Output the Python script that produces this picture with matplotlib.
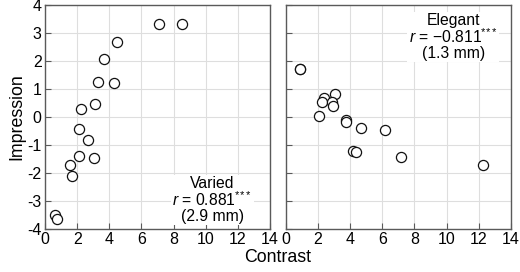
import matplotlib
matplotlib.use("Agg")
import matplotlib.pyplot as plt

plt.rcParams['font.family'] = ['Liberation Sans', 'DejaVu Sans']
plt.rcParams['mathtext.fontset'] = 'custom'
plt.rcParams['mathtext.rm'] = 'Liberation Sans'
plt.rcParams['mathtext.it'] = 'Liberation Sans:italic'

varied_x = [7.11, 8.5, 4.46, 3.69, 3.28, 4.31, 3.11, 2.24, 2.14, 2.65, 2.12, 3.03, 1.54, 1.70, 0.62, 0.77]
varied_y = [3.33, 3.31, 2.68, 2.08, 1.25, 1.20, 0.48, 0.29, -0.44, -0.82, -1.38, -1.45, -1.73, -2.12, -3.50, -3.65]

elegant_x = [0.89, 0.90, 2.41, 2.23, 3.07, 2.89, 2.97, 2.08, 3.76, 3.76, 4.71, 6.17, 4.19, 4.36, 7.14, 12.27]
elegant_y = [1.73, 1.70, 0.68, 0.54, 0.81, 0.52, 0.39, 0.05, -0.10, -0.17, -0.39, -0.48, -1.21, -1.25, -1.42, -1.70]

x_ticks = [0, 2, 4, 6, 8, 10, 12, 14]
y_ticks = [-4, -3, -2, -1, 0, 1, 2, 3, 4]
y_ticklabels = ['-4', '-3', '-2', '-1', '0', '1', '2', '3', '4']

fig = plt.figure(figsize=(5.2, 2.72), dpi=100)
ax1 = fig.add_axes([45/520, 1-229/272, 225/520, 224/272])
ax2 = fig.add_axes([285.7/520, 1-229/272, 225.3/520, 224/272])

spine_col = '#5a5a5a'
for ax, xs, ys in [(ax1, varied_x, varied_y), (ax2, elegant_x, elegant_y)]:
    ax.plot(xs, ys, 'o', ms=7.3, mfc='white', mec='#111111', mew=0.9, zorder=3)
    ax.set_xlim(0, 14)
    ax.set_ylim(-4, 4)
    ax.set_xticks(x_ticks)
    ax.set_yticks(y_ticks)
    ax.grid(True, color='#dedede', lw=0.8, zorder=0)
    ax.set_axisbelow(True)
    ax.tick_params(direction='in', length=4, width=0.8, color=spine_col, labelsize=11.5, pad=2.5)
    for s in ax.spines.values():
        s.set_color(spine_col)
        s.set_linewidth(1.0)

ax1.set_yticklabels(y_ticklabels)
ax2.set_yticklabels([])
ax1.set_ylabel('Impression', fontsize=12.8, labelpad=1)
fig.text(278/520, 1-257/272, 'Contrast', fontsize=12.8, ha='center', va='center')

stars = r'$^{*\!*\!*}$'
ax1.text(10.4, -2.96, 'Varied\n$r$ = 0.881' + stars + '\n(2.9 mm)', ha='center', va='center',
         fontsize=11.3, linespacing=0.95, bbox=dict(facecolor='white', edgecolor='none', pad=1), zorder=4)
ax2.text(10.4, 2.86, 'Elegant\n$r$ = \u22120.811' + stars + '\n(1.3 mm)', ha='center', va='center',
         fontsize=11.3, linespacing=0.95, bbox=dict(facecolor='white', edgecolor='none', pad=1), zorder=4)

fig.savefig('out.png', dpi=100)
